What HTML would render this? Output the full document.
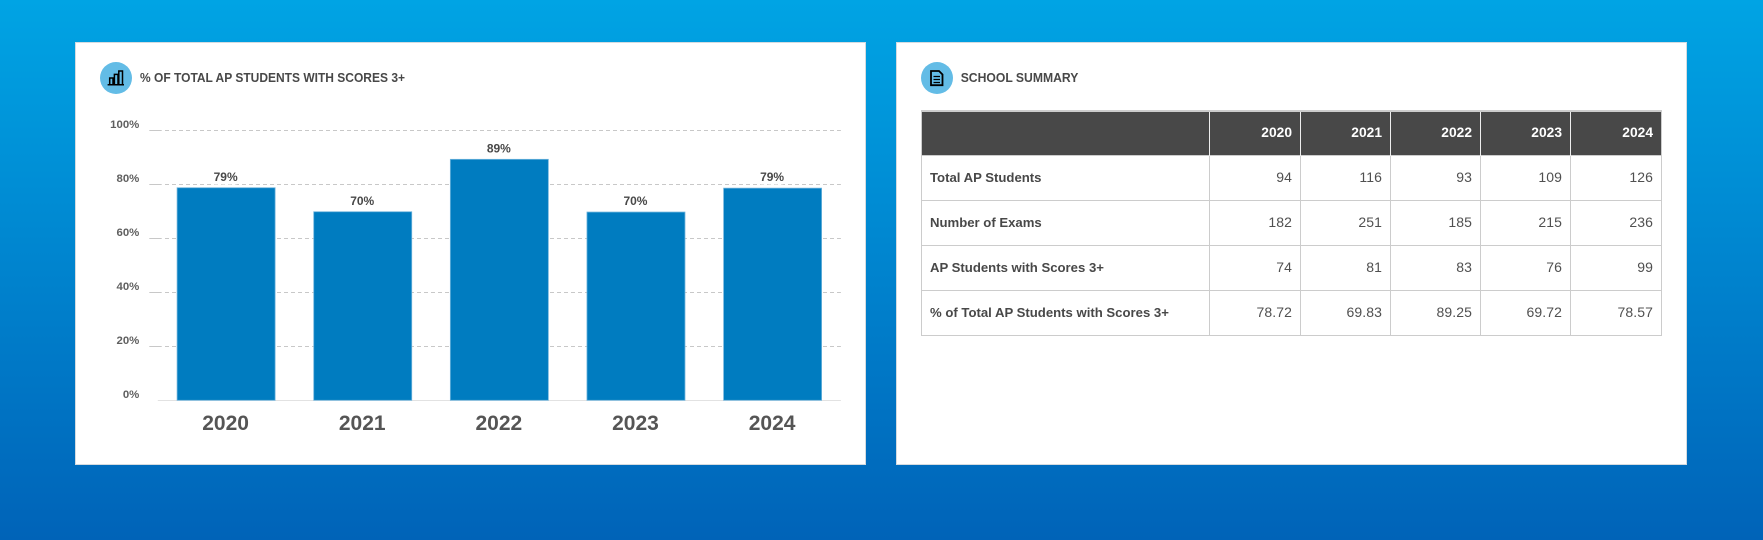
<!DOCTYPE html>
<html lang="en">
<head>
<meta charset="utf-8">
<title>AP Students Summary</title>
<style>
  html, body { margin: 0; padding: 0; }
  body {
    width: 1763px; height: 540px; overflow: hidden; position: relative;
    background: linear-gradient(180deg, #00a4e4 0%, #0063b8 100%);
    font-family: "Liberation Sans", sans-serif;
  }
  .card {
    position: absolute; top: 42px; width: 789px; height: 421px;
    background: #fff; border: 1px solid #d4dbe0;
  }
  #chart-card { left: 75px; }
  #table-card { left: 896px; }
  svg.layer { position: absolute; left: 0; top: 0; }
  table {
    position: absolute; left: 921px; top: 110px; width: 741px;
    border-collapse: collapse; table-layout: fixed;
    font-size: 14px; color: #505050;
    border-top: 2px solid #ccc;
  }
  th, td { border: 1px solid #ccc; padding: 0 8px 2px; text-align: right; height: 42px; box-sizing: content-box; }
  thead th { background: #484848; color: #fff; font-weight: bold; font-size: 13.8px; border-top: 0; border-left-color: #eee; border-right-color: #eee; border-bottom: 0; height: 41px; }
  thead th:first-child { border-left-color: #ccc; }
  thead th:last-child { border-right-color: #ccc; }
  tbody th { text-align: left; font-weight: bold; font-size: 13.15px; color: #484848; }
  td { letter-spacing: .1px; }
</style>
</head>
<body>
  <div class="card" id="chart-card"></div>
  <div class="card" id="table-card"></div>

  <svg class="layer" id="chart" width="1763" height="540" viewBox="0 0 1763 540">
    <g>
      <circle cx="116" cy="78" r="16" fill="#63bce6"></circle>
      <path d="M107.6 84.7H124M109.7 84.2V78H113V84.2M114.4 84.2V74.4H118V84.2M118.8 84.2V71H122.5V84.2" fill="none" stroke="#000" stroke-width="1.5"></path>
    </g>
    <text x="140" y="81.8" font-size="13" font-weight="bold" fill="#484848" textLength="265" lengthAdjust="spacingAndGlyphs">% OF TOTAL AP STUDENTS WITH SCORES 3+</text>

    <g>
      <circle cx="937" cy="78" r="16" fill="#63bce6"></circle>
      <path d="M931 71H939L942.5 74.5V85.2H931Z" fill="none" stroke="#000" stroke-width="1.8"></path>
      <path d="M933.5 76.5H940M933.5 79.5H940M933.5 82.5H940" fill="none" stroke="#000" stroke-width="1.2"></path>
    </g>
    <text x="960.7" y="81.8" font-size="13" font-weight="bold" fill="#484848" textLength="117.7" lengthAdjust="spacingAndGlyphs">SCHOOL SUMMARY</text>

    <g id="grid"></g>
    <g id="bars"></g>
    <g id="labels"></g>
  </svg>

  <table>
    <colgroup><col style="width:288px"><col style="width:91px"><col style="width:90px"><col style="width:90px"><col style="width:90px"><col style="width:91px"></colgroup>
    <thead>
      <tr>
        <th></th>
        <th>2020</th>
        <th>2021</th>
        <th>2022</th>
        <th>2023</th>
        <th>2024</th>
      </tr>
    </thead>
    <tbody>
      <tr><th>Total AP Students</th><td>94</td><td>116</td><td>93</td><td>109</td><td>126</td></tr>
      <tr><th>Number of Exams</th><td>182</td><td>251</td><td>185</td><td>215</td><td>236</td></tr>
      <tr><th>AP Students with Scores 3+</th><td>74</td><td>81</td><td>83</td><td>76</td><td>99</td></tr>
      <tr><th>% of Total AP Students with Scores 3+</th><td>78.72</td><td>69.83</td><td>89.25</td><td>69.72</td><td>78.57</td></tr>
    </tbody>
  </table>

<script>
const categories = ["2020", "2021", "2022", "2023", "2024"];
const scoreValues = [78.72, 69.83, 89.25, 69.72, 78.57];
const yTicks = [0, 20, 40, 60, 80, 100];

const NS = "http://www.w3.org/2000/svg";
const plotLeft = 157.8, plotRight = 840.9, plotBottom = 400.3, plotTop = 130.3;
const barWidth = 98;

function yScale(v) { return plotBottom - (v / 100) * (plotBottom - plotTop); }
function xCenter(i) { return plotLeft + (i + 0.5) * (plotRight - plotLeft) / categories.length; }
function make(tag, attrs, text) {
  const el = document.createElementNS(NS, tag);
  for (const k in attrs) el.setAttribute(k, attrs[k]);
  if (text !== undefined) el.textContent = text;
  return el;
}

const gridG = document.getElementById("grid");
const barsG = document.getElementById("bars");
const labelsG = document.getElementById("labels");

yTicks.forEach(function (t) {
  const y = yScale(t);
  const crisp = Math.floor(y) + 0.5;
  if (t === 0) {
    const base = make("line", { x1: plotLeft, x2: plotRight, y1: crisp, y2: crisp, stroke: "#e2e2e2", "stroke-width": 1 });
    
    
    gridG.appendChild(base);
  } else {
    const tick = make("line", { x1: 149.3, x2: 161.7, y1: crisp, y2: crisp, stroke: "#c8c8c8", "stroke-width": 1 });
    
    
    gridG.appendChild(tick);
    const line = make("line", { x1: 165, x2: plotRight, y1: crisp, y2: crisp, stroke: "#c8c8c8", "stroke-width": 1, "stroke-dasharray": "4 3" });
    
    
    gridG.appendChild(line);
  }
  const lab = make("text", {
    x: 139.3, y: y - 2.3, "text-anchor": "end", "font-size": 11.4, "font-weight": "bold", fill: "#5f5f5f"
  }, t + "%");
  
  
  labelsG.appendChild(lab);
});

categories.forEach(function (c, i) {
  const cx = xCenter(i);
  const top = yScale(scoreValues[i]);
  const bar = make("rect", {
    x: cx - barWidth / 2, y: top, width: barWidth, height: plotBottom - top,
    fill: "#007cc0", stroke: "#6db3dc", "stroke-width": 0.8
  });
  
  
  barsG.appendChild(bar);

  const val = make("text", {
    x: cx - 0.5, y: top - 7, "text-anchor": "middle", "font-size": 12, "font-weight": "bold",
    fill: "#484848", stroke: "#fff", "stroke-width": 7, "paint-order": "stroke", "stroke-linejoin": "round"
  }, Math.round(scoreValues[i]) + "%");
  
  
  labelsG.appendChild(val);

  const cat = make("text", {
    x: cx - 0.5, y: 430, "text-anchor": "middle", "font-size": 21, "font-weight": "bold", fill: "#555"
  }, c);
  
  
  labelsG.appendChild(cat);
});
</script>
</body>
</html>
